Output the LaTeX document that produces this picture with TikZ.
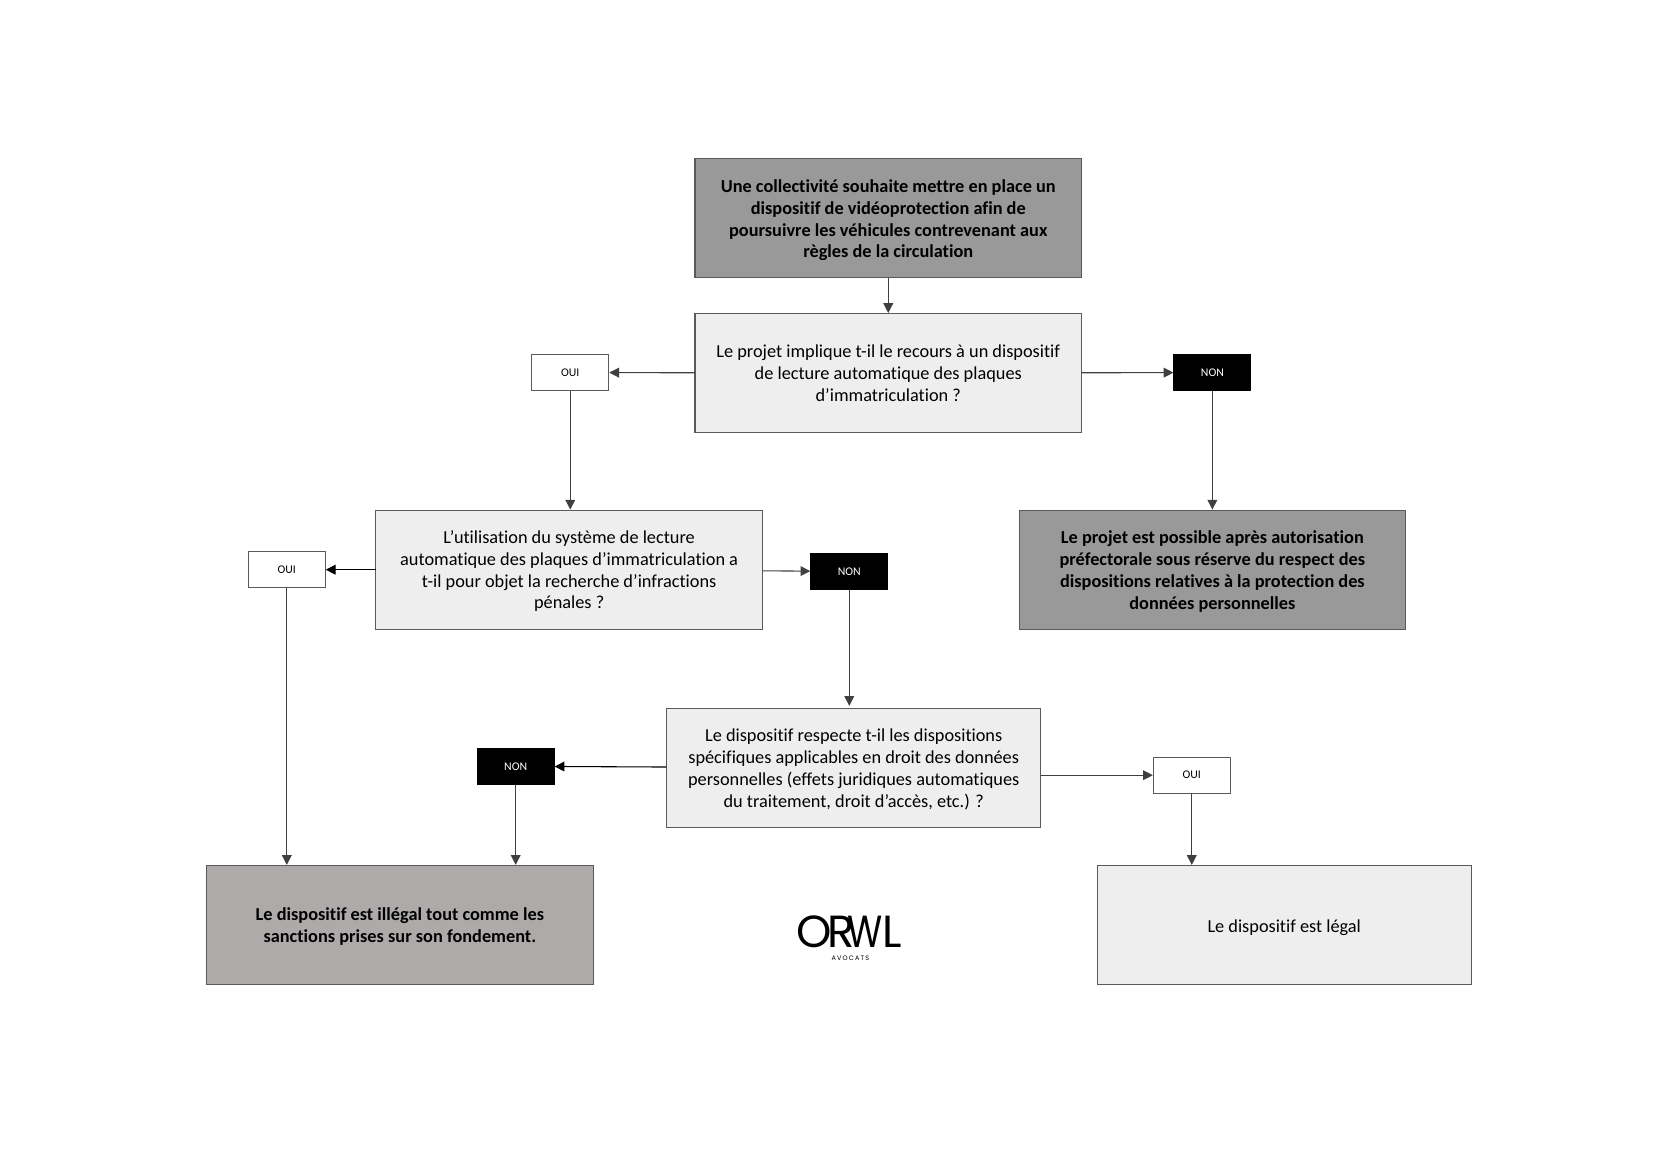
\documentclass[tikz,border=0pt]{standalone}
\usepackage{fontspec}
\setmainfont{Carlito}[Ligatures=NoCommon]
\newfontfamily\logofont{Poppins}
\newfontfamily\logosmall[LetterSpace=18]{Poppins}
\usetikzlibrary{arrows.meta}
\definecolor{boxline}{HTML}{5A5A5A}
\definecolor{arrowline}{HTML}{404040}
\definecolor{darkfill}{HTML}{999999}
\definecolor{lightfill}{HTML}{EEEEEE}
\definecolor{warmfill}{HTML}{AEAAAA}
\newcommand{\topgap}[1]{\rule{0pt}{#1pt}}
\tikzset{
  box/.style={draw=boxline, line width=0.55pt, minimum width=6.94cm, minimum height=2.14cm,
    align=center, inner sep=0pt, font=\fontsize{9.35}{11.15}\selectfont},
  question/.style={box, fill=lightfill},
  outcome/.style={box, fill=darkfill, font=\fontsize{9.35}{11.15}\selectfont\bfseries},
  tagbox/.style={draw=boxline, line width=0.55pt, minimum width=1.38cm, minimum height=0.65cm,
    inner sep=0pt, font=\fontsize{6}{7}\selectfont},
  oui/.style={tagbox, fill=white},
  non/.style={tagbox, fill=black, draw=black, text=white},
  link/.style={draw=arrowline, line width=0.55pt, -{Triangle[width=5pt,length=5pt]}}
}
\begin{document}
\begin{tikzpicture}[line cap=round]
  \useasboundingbox (0,0.02) rectangle (29.7,21.01);
  % ---------------- first question ----------------
  \node[outcome] (start) at (15.95,17.09) {\topgap{8.6}Une collectivité souhaite mettre en place un\\dispositif de vidéoprotection afin de\\poursuivre les véhicules contrevenant aux\\règles de la circulation};
  \node[question] (lapi) at (15.95,14.31) {Le projet implique t-il le recours à un dispositif\\de lecture automatique des plaques\\d’immatriculation ?};
  \node[oui] (ouilapi) at (10.24,14.32) {OUI};
  \node[non] (nonlapi) at (21.77,14.32) {NON};
  \node[outcome] (possible) at (21.77,10.78) {\topgap{8.2}Le projet est possible après autorisation\\préfectorale sous réserve du respect des\\dispositions relatives à la protection des\\données personnelles};

  % ---------------- second question ----------------
  \node[question] (penal) at (10.22,10.78) {\topgap{8.2}L’utilisation du système de lecture\\automatique des plaques d’immatriculation a\\t-il pour objet la recherche d’infractions\\pénales ?};
  \node[oui] (ouipenal) at (5.15,10.78) {OUI};
  \node[non] (nonpenal) at (15.25,10.75) {NON};

  % ---------------- third question ----------------
  \node[question, minimum width=6.72cm] (droit) at (15.33,7.22) {\topgap{8.2}Le dispositif respecte t-il les dispositions\\spécifiques applicables en droit des données\\personnelles (effets juridiques automatiques\\du traitement, droit d’accès, etc.) ?};
  \node[non] (nondroit) at (9.26,7.25) {NON};
  \node[oui] (ouidroit) at (21.40,7.09) {OUI};

  % ---------------- results ----------------
  \node[outcome, fill=warmfill] (illegal) at (7.18,4.40) {\topgap{8.2}Le dispositif est illégal tout comme les\\sanctions prises sur son fondement.};
  \node[question, minimum width=6.72cm] (legal) at (23.06,4.40) {\topgap{9.2}Le dispositif est légal};

  % ---------------- logo ----------------
  \node[inner sep=0pt] (logo) at (15.25,4.28) {\logofont\fontsize{23}{23}\selectfont O\kern-2.5pt R\kern-3.5pt\scalebox{0.8}[1]{W}\kern-0.5pt L};
  \node[inner sep=0pt, font=\logosmall\fontsize{3.3}{4}\selectfont] (avocats) at (15.27,3.8) {AVOCATS};

  % ---------------- connectors ----------------
  \draw[link] (start) -- (lapi);
  \draw[link] (lapi) -- (ouilapi);
  \draw[link] (lapi) -- (nonlapi);
  \draw[link] (nonlapi) -- (possible);
  \draw[link] (ouilapi.south) -- (ouilapi.south |- penal.north);
  \draw[link, draw=black] (penal) -- (ouipenal);
  \draw[link] (penal) -- (nonpenal);
  \draw[link] (ouipenal.south) -- (ouipenal.south |- illegal.north);
  \draw[link] (nonpenal.south) -- ([yshift=1pt]nonpenal.south |- droit.north);
  \draw[link, draw=black] (droit) -- (nondroit);
  \draw[link] (ouidroit -| droit.east) -- (ouidroit);
  \draw[link] (nondroit.south) -- (nondroit.south |- illegal.north);
  \draw[link] (ouidroit.south) -- (ouidroit.south |- legal.north);
\end{tikzpicture}
\end{document}
